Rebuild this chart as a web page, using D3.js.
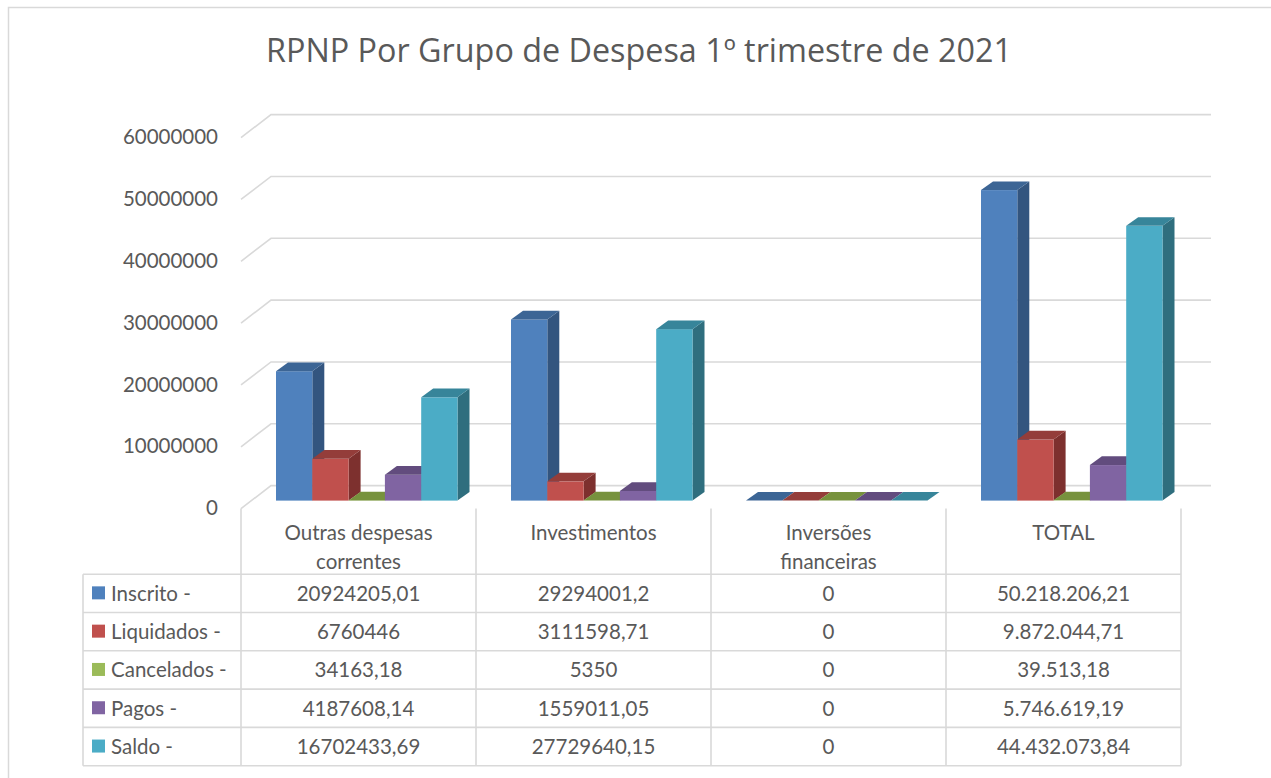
<!DOCTYPE html>
<html>
<head>
<meta charset="utf-8">
<script src="https://cdn.jsdelivr.net/npm/d3@7/dist/d3.min.js"></script>
<style>
  html, body { margin: 0; padding: 0; background: #fff; }
  svg { display: block; font-family: Lato, "Open Sans", sans-serif; }
</style>
</head>
<body>
<svg id="chart" width="1271" height="778"></svg>
<script>
// Categories (expense groups) and one array per series
const categories = ["Outras despesas correntes", "Investimentos", "Inversões financeiras", "TOTAL"];
const categoryLines = [["Outras despesas", "correntes"], ["Investimentos"], ["Inversões", "financeiras"], ["TOTAL"]];
const seriesNames = ["Inscrito -", "Liquidados -", "Cancelados -", "Pagos -", "Saldo -"];

const inscrito   = [20924205.01, 29294001.2, 0, 50218206.21];
const liquidados = [6760446, 3111598.71, 0, 9872044.71];
const cancelados = [34163.18, 5350, 0, 39513.18];
const pagos      = [4187608.14, 1559011.05, 0, 5746619.19];
const saldo      = [16702433.69, 27729640.15, 0, 44432073.84];

// Cell labels as shown in the data table
const inscritoLabels   = ["20924205,01", "29294001,2", "0", "50.218.206,21"];
const liquidadosLabels = ["6760446", "3111598,71", "0", "9.872.044,71"];
const canceladosLabels = ["34163,18", "5350", "0", "39.513,18"];
const pagosLabels      = ["4187608,14", "1559011,05", "0", "5.746.619,19"];
const saldoLabels      = ["16702433,69", "27729640,15", "0", "44.432.073,84"];

const yTicks = [0, 10000000, 20000000, 30000000, 40000000, 50000000, 60000000];
const title = "RPNP Por Grupo de Despesa 1º trimestre de 2021";

const seriesValues = [inscrito, liquidados, cancelados, pagos, saldo];
const seriesLabels = [inscritoLabels, liquidadosLabels, canceladosLabels, pagosLabels, saldoLabels];

// Office palette: front, side and top faces of each column
const frontColors = ["#4F81BD", "#C0504D", "#9BBB59", "#8064A2", "#4BACC6"];
const sideColors  = ["#33557F", "#7D302E", "#6E8A3A", "#5D4878", "#2F6E7E"];
const topColors   = ["#3C6595", "#943D3A", "#77923D", "#624C7E", "#37859A"];

const svg = d3.select("#chart");
const textColor = "#595959";
const gridColor = "#D9D9D9";

// Chart frame
svg.append("rect")
  .attr("x", 8.5).attr("y", 7.5).attr("width", 1400).attr("height", 900)
  .attr("fill", "none").attr("stroke", gridColor).attr("stroke-width", 1.5);

// Title, sized to span the width given to it
const titleText = svg.append("text")
  .attr("x", 639).attr("y", 62)
  .attr("text-anchor", "middle")
  .attr("fill", textColor)
  .style("font-family", "'Open Sans', Lato, sans-serif")
  .style("font-size", "30px")
  .text(title);
const titleWidth = 746;
const measured = titleText.node().getComputedTextLength();
if (measured > 0) titleText.style("font-size", (30 * titleWidth / measured).toFixed(2) + "px");

// Oblique 3D geometry: front plane, back wall offset
const plotLeft = 241, plotRight = 1181;
const wallDx = 30, wallDy = -23;
const frontZero = 508.6;
const backZero = frontZero + wallDy;

const h = d3.scaleLinear().domain([0, 60000000]).range([0, 371]);

// Gridlines: diagonal on the side wall, then horizontal along the back wall
const grid = svg.append("g");
yTicks.forEach(t => {
  const yf = frontZero - h(t), yb = backZero - h(t);
  grid.append("path")
    .attr("d", `M${plotLeft},${yf}L${plotLeft + wallDx},${yb}L${plotRight + wallDx},${yb}`)
    .attr("fill", "none").attr("stroke", gridColor).attr("stroke-width", 1.6);
});

// Value axis labels
svg.append("g").selectAll("text").data(yTicks).join("text")
  .attr("x", 218).attr("y", t => frontZero - h(t) + 1.5)
  .attr("text-anchor", "end").attr("dominant-baseline", "middle")
  .attr("fill", textColor).style("font-size", "20.5px")
  .text(t => String(t));

// Column positions
const x0 = d3.scaleBand().domain(categories).range([plotLeft, plotRight]);
const x1 = d3.scaleBand().domain(seriesNames).range([35, 216.5]);
const barBottom = 500.6;
const depthDx = 12, depthDy = -8.7;

const bars = svg.append("g");
categories.forEach((cat, ci) => {
  seriesNames.forEach((s, si) => {
    const v = seriesValues[si][ci];
    const xl = x0(cat) + x1(s);
    const xr = xl + x1.bandwidth();
    const yt = barBottom - h(v);
    const g = bars.append("g");
    // side face
    g.append("path")
      .attr("d", `M${xr},${barBottom}L${xr + depthDx},${barBottom + depthDy}L${xr + depthDx},${yt + depthDy}L${xr},${yt}Z`)
      .attr("fill", sideColors[si]);
    // front face
    g.append("rect")
      .attr("x", xl).attr("y", yt).attr("width", x1.bandwidth()).attr("height", Math.max(0, barBottom - yt))
      .attr("fill", frontColors[si]);
    // top face
    g.append("path")
      .attr("d", `M${xl},${yt}L${xl + depthDx},${yt + depthDy}L${xr + depthDx},${yt + depthDy}L${xr},${yt}Z`)
      .attr("fill", topColors[si]);
  });
});

// Data table
const tableLeft = 83;
const rowTop = 574.2, rowH = 38.3;
const headerTop = 508.6;
const table = svg.append("g");
const lineW = 1.6;

for (let r = 0; r <= seriesNames.length; r++) {
  table.append("line")
    .attr("x1", tableLeft).attr("x2", plotRight)
    .attr("y1", rowTop + r * rowH).attr("y2", rowTop + r * rowH)
    .attr("stroke", gridColor).attr("stroke-width", lineW);
}
table.append("line")
  .attr("x1", tableLeft).attr("x2", tableLeft)
  .attr("y1", rowTop).attr("y2", rowTop + seriesNames.length * rowH)
  .attr("stroke", gridColor).attr("stroke-width", lineW);
[...categories.map(c => x0(c)), plotRight].forEach(x => {
  table.append("line")
    .attr("x1", x).attr("x2", x)
    .attr("y1", headerTop).attr("y2", rowTop + seriesNames.length * rowH)
    .attr("stroke", gridColor).attr("stroke-width", lineW);
});

// Category headers
categories.forEach((cat, ci) => {
  const cx = x0(cat) + x0.bandwidth() / 2;
  categoryLines[ci].forEach((line, li) => {
    table.append("text")
      .attr("x", cx).attr("y", 540 + li * 29)
      .attr("text-anchor", "middle").attr("fill", textColor)
      .style("font-size", "20.5px")
      .text(line);
  });
});

// Legend keys and values
seriesNames.forEach((s, si) => {
  const yMid = rowTop + si * rowH + rowH / 2;
  table.append("rect")
    .attr("x", 92).attr("y", yMid - 7).attr("width", 13).attr("height", 13)
    .attr("fill", frontColors[si]);
  table.append("text")
    .attr("x", 111).attr("y", yMid + 7.5)
    .attr("fill", textColor).style("font-size", "20.5px")
    .text(s);
  categories.forEach((cat, ci) => {
    table.append("text")
      .attr("x", x0(cat) + x0.bandwidth() / 2).attr("y", yMid + 7.5)
      .attr("text-anchor", "middle").attr("fill", textColor)
      .style("font-size", "20.5px")
      .text(seriesLabels[si][ci]);
  });
});
</script>
</body>
</html>
